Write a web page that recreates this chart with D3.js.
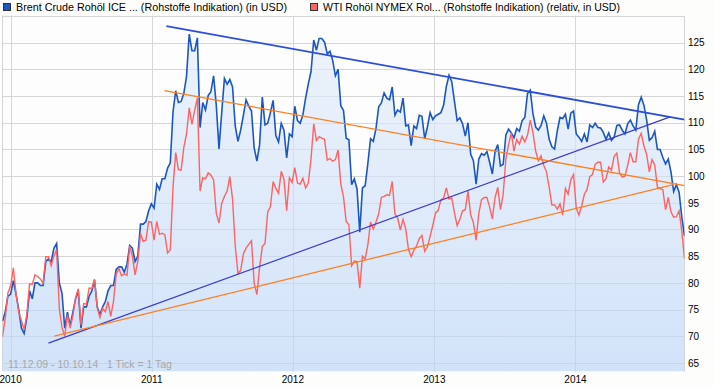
<!DOCTYPE html>
<html lang="de">
<head>
<meta charset="utf-8">
<title>Brent vs WTI</title>
<script src="https://cdn.jsdelivr.net/npm/d3@7/dist/d3.min.js"></script>
<style>
  body { margin: 0; background: #fdfefc; }
  svg text { font-family: "Liberation Sans", Arial, sans-serif; font-size: 10px; fill: #000; }
</style>
</head>
<body>
<div id="chart"></div>
<script>
// weekly closes (Fridays), first week and last day of the range
var firstWeek = "2009-12-11";
var lastDay = "2014-10-10";

// Brent Crude (USD), one value per week
var brent = [
  72.8, 74.5, 77.5,
  77.9, 80.4, 77.9, 75.0, 71.5, 70.5, 73.5, 78.5, 77.0, 80.0, 80.0, 79.5, 79.5,
  84.0, 84.5, 84.0, 86.5, 87.4, 80.0, 78.0, 71.5, 74.5, 72.0, 74.5, 77.0, 78.5,
  71.5, 75.5, 75.5, 77.5, 78.5, 80.5, 75.5, 74.0, 75.5, 76.5, 78.5, 79.5, 79.5,
  82.5, 83.0, 83.0, 82.0, 83.5, 87.0, 86.5, 84.0, 85.0, 91.0, 91.0, 91.5, 93.5, 94.8,
  94.0, 98.5, 97.5, 99.5, 99.5, 101.5, 102.5, 112.0, 116.0, 113.8, 114.0, 115.5,
  118.7, 126.6, 123.5, 123.5, 125.9, 109.1, 113.8, 112.4, 115.1, 115.8, 118.8, 113.2, 105.1,
  111.9, 118.3, 117.2, 118.1, 116.7, 109.4, 106.5, 108.6, 111.4, 114.3, 113.1, 112.2, 105.3, 102.8,
  105.9, 114.8, 109.6, 109.9, 111.9, 114.2, 107.6, 106.4, 109.9, 108.6, 103.4, 107.9, 107.4,
  113.1, 110.4, 109.9, 111.5, 114.6, 117.3, 119.6, 125.5, 123.6, 125.8, 125.8, 125.1, 122.9,
  123.4, 121.7, 118.8, 120.0, 113.2, 112.3, 107.1, 106.8, 98.4, 99.5, 97.6, 89.5, 97.8,
  98.2, 102.4, 107.0, 106.5, 108.9, 113.0, 113.7, 115.6, 114.6, 114.3, 116.7, 111.4, 112.4,
  112.0, 114.6, 109.4, 109.6, 105.7, 109.4, 108.9, 111.4, 111.2, 107.0, 109.2, 111.9, 110.6,
  111.3, 111.6, 111.9, 113.3, 116.8, 118.9, 117.7, 114.0, 110.4, 110.9, 109.8, 107.5, 110.0,
  104.1, 102.9, 98.5, 103.2, 104.2, 103.9, 104.6, 102.6, 100.4, 104.6, 105.9, 101.9, 102.2,
  107.7, 108.8, 108.1, 107.2, 108.9, 108.4, 110.4, 111.0, 115.5, 116.1, 111.7, 109.2, 108.6,
  109.5, 111.3, 109.9, 106.9, 105.5, 105.1, 108.5, 111.0, 110.8, 111.6, 108.8, 111.8, 112.2,
  107.9, 107.3, 106.5, 107.9, 106.4, 109.6, 109.1, 109.9, 109.1, 109.0, 108.2, 106.9, 108.1,
  106.7, 107.3, 109.5, 109.6, 108.6, 107.9, 109.8, 110.5, 109.4, 108.6, 113.4, 114.8, 113.3,
  110.6, 106.7, 107.2, 108.4, 105.0, 105.0, 103.5, 102.3, 103.2, 100.8, 97.1, 98.4, 97.0,
  92.3, 88.8
];

// WTI NYMEX (relativ, USD), one value per week
var wti = [
  69.9, 73.4, 78.1,
  79.4, 82.8, 78.0, 74.5, 72.9, 71.2, 74.1, 79.8, 79.7, 81.5, 81.2, 80.7, 80.0,
  84.9, 84.9, 83.2, 85.1, 86.2, 75.1, 71.6, 70.0, 74.0, 71.5, 73.8, 77.2, 78.9,
  72.1, 76.1, 76.0, 79.0, 78.9, 80.7, 75.4, 73.5, 75.2, 74.6, 76.5, 73.7, 76.5,
  81.6, 82.7, 81.3, 81.7, 81.4, 86.9, 84.9, 81.5, 84.0, 89.2, 87.8, 88.0, 91.5, 91.4,
  88.0, 91.5, 89.1, 89.3, 89.0, 85.6, 86.2, 97.9, 104.4, 101.2, 101.1, 105.4,
  107.9, 112.8, 109.7, 112.3, 114.6, 97.2, 99.7, 99.5, 100.6, 100.2, 99.3, 93.0, 91.2,
  94.9, 96.2, 97.2, 99.9, 95.7, 86.9, 81.8, 82.3, 85.4, 86.5, 87.2, 87.9, 79.9, 77.8,
  82.9, 86.8, 87.4, 93.3, 94.3, 99.0, 97.7, 96.8, 100.9, 99.4, 93.5, 99.7, 98.8,
  101.6, 98.7, 98.5, 99.6, 97.8, 98.7, 103.2, 109.8, 106.7, 107.4, 107.1, 106.9, 103.0,
  103.3, 102.8, 103.1, 104.9, 98.5, 96.1, 91.5, 90.9, 83.2, 84.1, 84.0, 79.0, 85.0,
  84.5, 87.1, 91.4, 90.1, 91.4, 92.9, 96.0, 96.2, 96.5, 96.4, 99.0, 92.9, 92.2,
  89.9, 91.9, 90.1, 86.3, 84.9, 86.1, 86.9, 88.3, 88.9, 85.9, 86.7, 88.7, 90.8,
  93.1, 93.6, 95.6, 95.9, 97.8, 95.7, 95.9, 93.1, 90.7, 91.9, 93.5, 93.7, 97.2,
  92.7, 91.3, 88.0, 93.0, 95.6, 96.0, 96.0, 94.2, 92.0, 96.0, 97.9, 93.7, 96.6,
  103.2, 105.9, 108.1, 104.7, 106.9, 106.0, 107.5, 106.4, 107.7, 110.5, 108.2, 104.7, 102.9,
  103.8, 102.0, 100.8, 97.9, 94.6, 94.6, 93.8, 94.8, 92.7, 97.7, 96.6, 99.3, 100.3,
  94.0, 92.7, 94.4, 96.6, 97.5, 99.9, 100.3, 102.2, 102.6, 102.6, 98.9, 99.5, 101.7,
  101.1, 103.7, 104.3, 100.6, 99.8, 100.0, 102.0, 104.4, 102.7, 102.7, 106.9, 108.0, 105.7,
  104.1, 100.8, 103.1, 102.1, 97.9, 97.7, 97.4, 93.7, 96.0, 93.3, 92.3, 92.4, 93.5,
  89.7, 84.5
];

var yTicks = [65, 70, 75, 80, 85, 90, 95, 100, 105, 110, 115, 120, 125, 130];
var years = ["2010", "2011", "2012", "2013", "2014"];

// hand drawn trend lines: [start date, value], [end date, value]
var brentTrends = [
  [["2011-02-08", 128.1], ["2014-10-10", 110.6]],
  [["2010-04-09", 68.7], ["2014-09-03", 111.1]]
];
var wtiTrends = [
  [["2011-02-03", 116.0], ["2014-10-10", 98.2]],
  [["2010-04-24", 70.0], ["2014-09-11", 98.4]]
];

var legendNames = [
  "Brent Crude Rohöl ICE ... (Rohstoffe Indikation) (in USD)",
  "WTI Rohöl NYMEX Rol... (Rohstoffe Indikation) (relativ, in USD)"
];
var rangeNote = "11.12.09 - 10.10.14   1 Tick = 1 Tag";

var W = 714, H = 388;
var plot = { left: 2.5, right: 684.5, top: 15.5, bottom: 371.5 };
var parse = d3.timeParse("%Y-%m-%d");
var start = parse(firstWeek);

var x = d3.scaleTime()
  .domain([start, parse(lastDay)])
  .range([plot.left, plot.right]);
var y = d3.scaleLinear()
  .domain([65, 125])
  .range([362.9, 42.7]);

var brentData = brent.map(function(v, i) { return { date: d3.timeDay.offset(start, 7 * i), value: v }; });
var wtiData = wti.map(function(v, i) { return { date: d3.timeDay.offset(start, 7 * i), value: v }; });

var svg = d3.select("#chart").append("svg")
  .attr("width", W)
  .attr("height", H);

var defs = svg.append("defs");
var grad = defs.append("linearGradient")
  .attr("id", "fillGrad")
  .attr("gradientUnits", "userSpaceOnUse")
  .attr("x1", 0).attr("x2", 0)
  .attr("y1", plot.top).attr("y2", plot.bottom);
grad.append("stop").attr("offset", "0%").attr("stop-color", "#e6eefb");
grad.append("stop").attr("offset", "100%").attr("stop-color", "#b8d3f7");

defs.append("clipPath").attr("id", "plotClip")
  .append("rect")
  .attr("x", plot.left).attr("y", plot.top)
  .attr("width", plot.right - plot.left).attr("height", plot.bottom - plot.top);

// plot background
svg.append("rect")
  .attr("x", plot.left).attr("y", plot.top)
  .attr("width", plot.right - plot.left).attr("height", plot.bottom - plot.top)
  .attr("fill", "#fcfdfc");

// grid
var grid = svg.append("g").attr("stroke", "#d6d6d6").attr("stroke-width", 1);
grid.selectAll("line.h")
  .data(yTicks)
  .enter().append("line")
  .attr("x1", plot.left).attr("x2", plot.right)
  .attr("y1", function(d) { return Math.round(y(d)) + 0.5; })
  .attr("y2", function(d) { return Math.round(y(d)) + 0.5; });
grid.selectAll("line.v")
  .data(years)
  .enter().append("line")
  .attr("x1", function(d) { return Math.round(x(parse(d + "-01-01"))) + 0.5; })
  .attr("x2", function(d) { return Math.round(x(parse(d + "-01-01"))) + 0.5; })
  .attr("y1", plot.top).attr("y2", plot.bottom);
grid.append("line")
  .attr("x1", plot.left).attr("x2", plot.left)
  .attr("y1", plot.top).attr("y2", plot.bottom);
grid.append("line")
  .attr("x1", plot.right).attr("x2", plot.right)
  .attr("y1", plot.top).attr("y2", plot.bottom);

var g = svg.append("g").attr("clip-path", "url(#plotClip)");

// Brent area
var area = d3.area()
  .x(function(d) { return x(d.date); })
  .y0(plot.bottom)
  .y1(function(d) { return y(d.value); });
g.append("path")
  .datum(brentData)
  .attr("d", area)
  .attr("fill", "url(#fillGrad)")
  .attr("fill-opacity", 0.62);

var line = d3.line()
  .x(function(d) { return x(d.date); })
  .y(function(d) { return y(d.value); });

g.append("path")
  .datum(brentData)
  .attr("d", line)
  .attr("fill", "none")
  .attr("stroke", "#1b57c2")
  .attr("stroke-width", 1.6);

g.append("path")
  .datum(wtiData)
  .attr("d", line)
  .attr("fill", "none")
  .attr("stroke", "#ff6262")
  .attr("stroke-width", 1.4);

// trend lines
var trend = d3.line()
  .x(function(d) { return x(parse(d[0])); })
  .y(function(d) { return y(d[1]); });

g.selectAll("path.btrend")
  .data(brentTrends)
  .enter().append("path")
  .attr("d", trend)
  .attr("fill", "none")
  .attr("stroke", function(d, i) { return i === 0 ? "#2d4ed8" : "#3b3bcc"; })
  .attr("stroke-width", function(d, i) { return i === 0 ? 1.8 : 1.2; });

g.selectAll("path.wtrend")
  .data(wtiTrends)
  .enter().append("path")
  .attr("d", trend)
  .attr("fill", "none")
  .attr("stroke", "#ff7f1c")
  .attr("stroke-width", 1.3);

// y axis labels
svg.append("g").selectAll("text")
  .data(yTicks.filter(function(d) { return d <= 125; }))
  .enter().append("text")
  .attr("x", 688)
  .attr("y", function(d) { return y(d) + 3.7; })
  .text(function(d) { return d; });

// x axis labels
svg.append("g").selectAll("text")
  .data(years)
  .enter().append("text")
  .attr("x", function(d) { return x(parse(d + "-01-01")); })
  .attr("y", 383)
  .attr("text-anchor", "middle")
  .text(function(d) { return d; });

svg.append("text")
  .attr("x", 8)
  .attr("y", 368)
  .attr("xml:space", "preserve")
  .style("white-space", "pre")
  .style("fill", "#a8a8a8")
  .style("font-size", "10.5px")
  .text(rangeNote);

// legend
var legendColors = ["#1b57c2", "#ff6262"];
var legendX = [3.5, 310.5];
var legendWidths = [271, 297];
var lg = svg.append("g").selectAll("g")
  .data(legendNames)
  .enter().append("g")
  .attr("transform", function(d, i) { return "translate(" + legendX[i] + ",3.5)"; });
lg.append("rect")
  .attr("width", 7).attr("height", 7)
  .attr("fill", function(d, i) { return legendColors[i]; })
  .attr("stroke", "#333");
lg.append("text")
  .attr("x", 12.5)
  .attr("y", 7.5)
  .attr("textLength", function(d, i) { return legendWidths[i]; })
  .attr("lengthAdjust", "spacingAndGlyphs")
  .style("font-size", "10.5px")
  .text(function(d) { return d; });
</script>
</body>
</html>
